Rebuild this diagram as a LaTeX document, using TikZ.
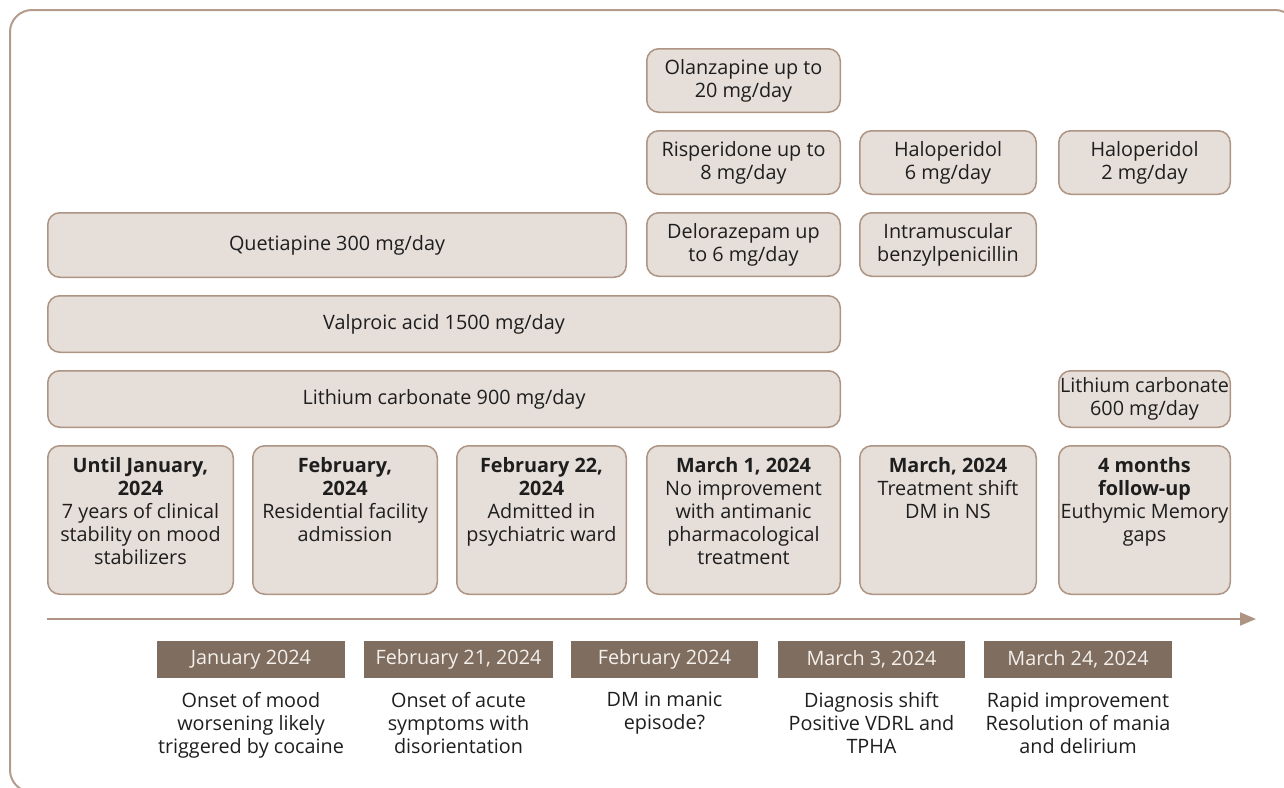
\documentclass[tikz,border=0pt]{standalone}
\usepackage{fontspec}
\setmainfont{Open Sans}
\usetikzlibrary{arrows.meta}
\definecolor{boxfill}{HTML}{E5DED9}
\definecolor{boxline}{HTML}{AD9483}
\definecolor{datefill}{HTML}{7F6D5F}
\definecolor{datetext}{HTML}{F4F0EC}
\definecolor{frameline}{HTML}{B49C8C}
\definecolor{txt}{HTML}{1E1E1E}
\newcommand\rbox[6]{\node[box, minimum width={#4pt-#2pt-1.5pt}, minimum height={#5pt-#3pt-1.5pt}] (#1) at ({(#2+#4)/2},{(#3+#5)/2}) {#6};}
\newcommand\dlabel[4]{\node[datebox, minimum width={#3pt-#2pt}] (#1) at ({(#2+#3)/2},659.5) {#4};}
\begin{document}
\begin{tikzpicture}[x=1pt,y=-1pt,
  font=\fontsize{19.8}{23}\selectfont, text=txt,
  box/.style={draw=boxline, fill=boxfill, line width=1.5pt, rounded corners=12pt, inner sep=0pt, align=center},
  datebox/.style={fill=datefill, text=datetext, minimum height=37pt, inner sep=0pt},
  desc/.style={anchor=north, inner sep=0pt, align=center},
  head/.style={anchor=north, inner sep=0pt, align=center}]
\useasboundingbox (0,0) rectangle (1284,787);
\begin{scope}
\clip (0,0) rectangle (1284,787);
\draw[frameline, line width=2pt, rounded corners=22pt] (10,10) rectangle (1297,792);
\end{scope}

\rbox{olz}{646}{48}{841}{113}{Olanzapine up to\\20 mg/day}
\rbox{ris}{646}{130}{841}{195}{Risperidone up to\\8 mg/day}
\rbox{hal6}{859}{130}{1037}{195}{Haloperidol\\6 mg/day}
\rbox{hal2}{1058}{130}{1231}{195}{Haloperidol\\2 mg/day}
\rbox{que}{47}{212}{627}{278}{Quetiapine 300 mg/day}
\rbox{del}{646}{212}{841}{277}{Delorazepam up\\to 6 mg/day}
\rbox{ims}{859}{212}{1037}{277}{Intramuscular\\benzylpenicillin}
\rbox{val}{47}{295}{841}{353}{Valproic acid 1500 mg/day}
\rbox{li9}{47}{370}{841}{428}{Lithium carbonate 900 mg/day}
\rbox{li6}{1058}{370}{1231}{428}{Lithium carbonate\\600 mg/day}

\rbox{e1}{47}{445}{234}{595}{}
\rbox{e2}{252}{445}{438}{595}{}
\rbox{e3}{456}{445}{627}{595}{}
\rbox{e4}{646}{445}{841}{595}{}
\rbox{e5}{859}{445}{1037}{595}{}
\rbox{e6}{1058}{445}{1231}{595}{}
\node[head] (e1t) at (e1.center |- 0,457) {\textbf{Until January,}\\\textbf{2024}\\7 years of clinical\\stability on mood\\stabilizers};
\node[head] (e2t) at (e2.center |- 0,457) {\textbf{February,}\\\textbf{2024}\\Residential facility\\admission};
\node[head] (e3t) at (e3.center |- 0,457) {\textbf{February 22,}\\\textbf{2024}\\Admitted in\\psychiatric ward};
\node[head] (e4t) at (e4.center |- 0,457) {\textbf{March 1, 2024}\\No improvement\\with antimanic\\pharmacological\\treatment};
\node[head] (e5t) at (e5.center |- 0,457) {\textbf{March, 2024}\\Treatment shift\\DM in NS};
\node[head] (e6t) at (e6.center |- 0,457) {\textbf{4 months}\\\textbf{follow-up}\\Euthymic Memory\\gaps};

\coordinate (as) at (47,619);
\coordinate (ae) at (1256,619);
\draw[boxline, line width=2pt, -{Triangle[length=16pt,width=13pt]}] (as) -- (ae);

\dlabel{d1}{157}{345}{January 2024}
\dlabel{d2}{364}{553}{February 21, 2024}
\dlabel{d3}{571}{758}{February 2024}
\dlabel{d4}{778}{965}{March 3, 2024}
\dlabel{d5}{984}{1172}{March 24, 2024}

\node[desc] (t1) at (d1.center |- 0,692) {Onset of mood\\worsening likely\\triggered by cocaine};
\node[desc] (t2) at (d2.center |- 0,692) {Onset of acute\\symptoms with\\disorientation};
\node[desc] (t3) at (d3.center |- 0,692) {DM in manic\\episode?};
\node[desc] (t4) at (d4.center |- 0,692) {Diagnosis shift\\Positive VDRL and\\TPHA};
\node[desc] (t5) at (d5.center |- 0,692) {Rapid improvement\\Resolution of mania\\and delirium};
\end{tikzpicture}
\end{document}
